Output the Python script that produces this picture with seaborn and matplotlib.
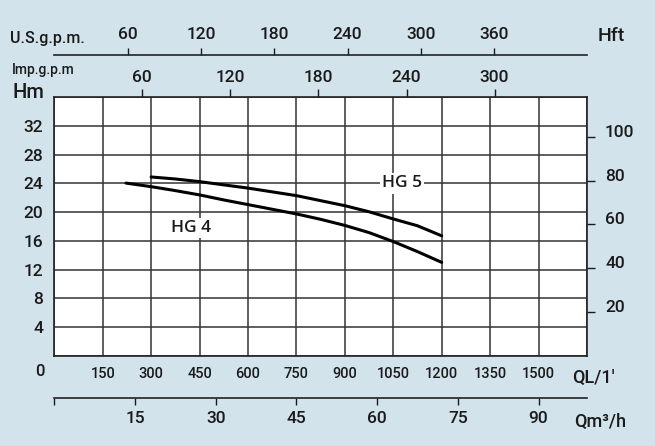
import numpy as np
import pandas as pd
import matplotlib
matplotlib.use("Agg")
import matplotlib.pyplot as plt
import seaborn as sns

# ---- data ----
q_hg5 = [300, 375, 450, 525, 600, 750, 825, 900, 975, 1050, 1125, 1200]     # L/min
h_hg5 = [24.9, 24.62, 24.25, 23.8, 23.35, 22.3, 21.6, 20.9, 20.05, 19.05, 18.1, 16.7]  # m
q_hg4 = [222, 300, 375, 450, 525, 600, 750, 825, 900, 975, 1050, 1125, 1200]
h_hg4 = [24.05, 23.55, 23.0, 22.4, 21.7, 21.05, 19.75, 19.0, 18.15, 17.15, 15.9, 14.5, 13.0]

lpm_ticks = [0, 150, 300, 450, 600, 750, 900, 1050, 1200, 1350, 1500, 1650]
lpm_labels = ["", "150", "300", "450", "600", "750", "900", "1050", "1200", "1350", "1500", ""]
hm_ticks = [0, 4, 8, 12, 16, 20, 24, 28, 32, 36]
hm_labels = ["", "4", "8", "12", "16", "20", "24", "28", "32", ""]
hft_ticks = [20, 40, 60, 80, 100]
usgpm_ticks = [60, 120, 180, 240, 300, 360]
impgpm_ticks = [60, 120, 180, 240, 300]
m3h_ticks = [0, 15, 30, 45, 60, 75, 90]
m3h_labels = ["", "15", "30", "45", "60", "75", "90"]

BG = "#d3e3ec"
W, H = 655, 446
NUMFONT = ["Roboto", "DejaVu Sans"]
NW = "medium"

sns.set_theme(style="white")
plt.rcParams["font.family"] = NUMFONT
plt.rcParams["font.weight"] = NW

fig = plt.figure(figsize=(W / 100, H / 100), dpi=100, facecolor=BG)

def fx(px):
    return px / W

def fy(py):
    return 1 - py / H

L, R, T, B = 54.3, 587.0, 97.3, 355.7
ax = fig.add_axes([fx(L), fy(B), (R - L) / W, (B - T) / H])
ax.set_facecolor("white")

df = pd.concat([
    pd.DataFrame({"Q": q_hg5, "H": h_hg5, "model": "HG 5"}),
    pd.DataFrame({"Q": q_hg4, "H": h_hg4, "model": "HG 4"}),
])
sns.lineplot(data=df, x="Q", y="H", hue="model",
             palette={"HG 5": "black", "HG 4": "black"},
             legend=False, ax=ax, lw=2.2, zorder=4)

ax.set_xlim(0, 1650)
ax.set_ylim(0, 36)
ax.set_xticks(lpm_ticks, lpm_labels)
ax.set_yticks(hm_ticks, hm_labels)
ax.grid(True, color="#333333", lw=1.1)
ax.set_axisbelow(True)
ax.tick_params(axis="x", length=0, pad=8, labelsize=10.5, colors="#1a1a1a")
ax.tick_params(axis="y", length=0, pad=8, labelsize=12.5, colors="#1a1a1a")
ax.set_xlabel("")
ax.set_ylabel("")
for s in ax.spines.values():
    s.set_visible(True)
    s.set_color("#222222")
    s.set_linewidth(1.2)

# curve labels
ax.text(1077, 24.0, "HG 5", ha="center", va="center", fontfamily="Open Sans",
        fontweight="semibold", fontsize=12.5, color="#1a1a1a", zorder=5,
        bbox=dict(fc="white", ec="none", pad=1.5))
ax.text(424, 17.8, "HG 4", ha="center", va="center", fontfamily="Open Sans",
        fontweight="semibold", fontsize=12.5, color="#1a1a1a", zorder=5,
        bbox=dict(fc="white", ec="none", pad=1.5))

# right axis in feet
ax2 = ax.twinx()
ax2.set_ylim(0, 36 * 3.28084)
ax2.set_yticks(hft_ticks)
ax2.tick_params(axis="y", direction="out", length=6, width=1, pad=7,
                labelsize=12.5, colors="#1a1a1a")
for lab in ax2.get_yticklabels():
    lab.set_va("baseline")
ax2.grid(False)
for s in ax2.spines.values():
    s.set_visible(False)

# top: U.S. gpm
sec_us = ax.secondary_xaxis((B - 55.0) / (B - T),
                            functions=(lambda x: x / 3.78541, lambda x: x * 3.78541))
sec_us.set_xticks(usgpm_ticks)
sec_us.tick_params(direction="out", length=5, width=1, pad=4, labelsize=12.5,
                   colors="#1a1a1a")
sec_us.spines["top"].set_linewidth(1.2)
sec_us.spines["top"].set_color("#222222")

# top: Imp gpm
sec_imp = ax.secondary_xaxis("top",
                             functions=(lambda x: x / 4.54609, lambda x: x * 4.54609))
sec_imp.set_xticks(impgpm_ticks)
sec_imp.tick_params(direction="out", length=5.5, width=1, pad=3, labelsize=12.5,
                    colors="#1a1a1a")
sec_imp.spines["top"].set_visible(False)

# bottom: m3/h
sec_m3 = ax.secondary_xaxis(-(398.3 - B) / (B - T),
                            functions=(lambda x: x * 0.06, lambda x: x / 0.06))
sec_m3.set_xticks(m3h_ticks, m3h_labels)
sec_m3.tick_params(direction="out", length=5, width=1, pad=4, labelsize=12.5,
                   colors="#1a1a1a")
sec_m3.spines["bottom"].set_linewidth(1.2)
sec_m3.spines["bottom"].set_color("#222222")

# axis captions
tc = "#1a1a1a"
fig.text(fx(10), fy(38), "U.S.g.p.m.", ha="left", va="center", fontsize=11.5, color=tc)
fig.text(fx(598), fy(36), "Hft", ha="left", va="center", fontsize=14, color=tc)
fig.text(fx(12), fy(70), "Imp.g.p.m", ha="left", va="center", fontsize=10, color=tc)
fig.text(fx(12), fy(93), "Hm", ha="left", va="center", fontsize=14.5, color=tc)
fig.text(fx(40), fy(372), "0", ha="center", va="center", fontsize=12, color=tc)
fig.text(fx(572), fy(378), "QL/1'", ha="left", va="center", fontsize=13, color=tc)
fig.text(fx(574), fy(422), "Qm³/h", ha="left", va="center", fontsize=13, color=tc)

fig.savefig("out.png", dpi=100, facecolor=BG)
